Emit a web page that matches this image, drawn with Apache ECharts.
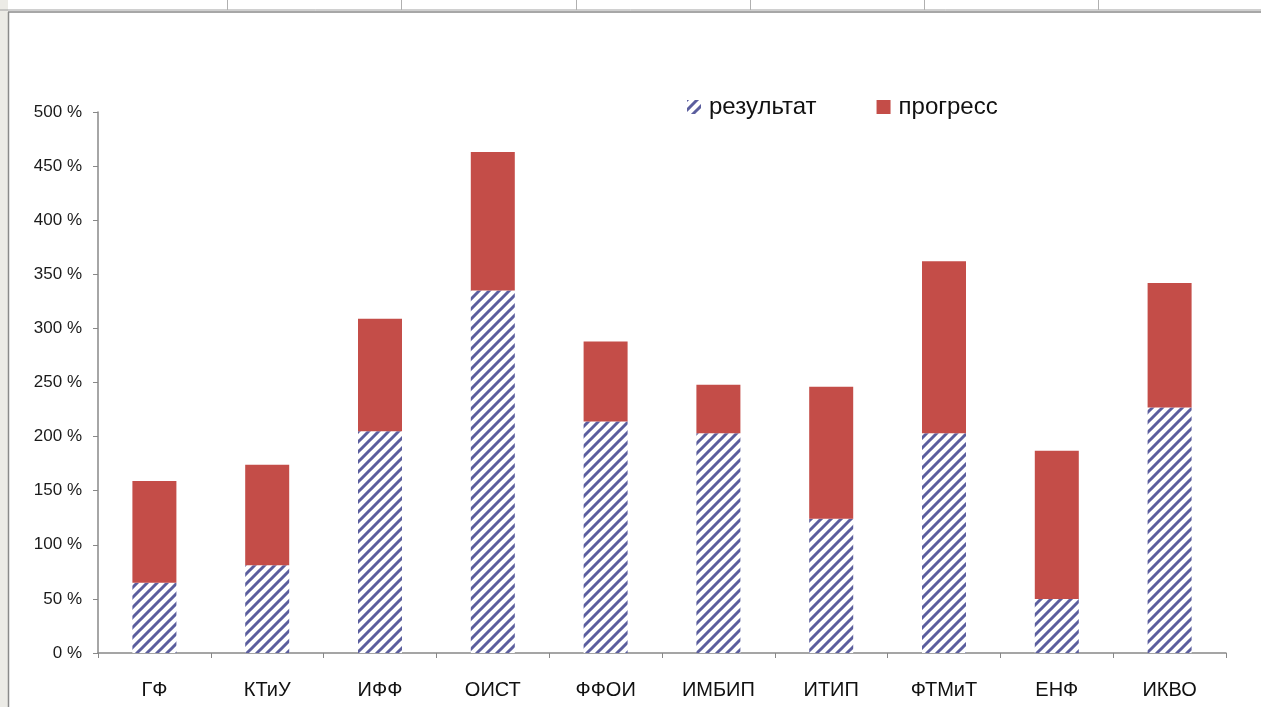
<!DOCTYPE html>
<html>
<head>
<meta charset="utf-8">
<script src="https://cdn.jsdelivr.net/npm/echarts@6/dist/echarts.min.js"></script>
<style>
* { margin: 0; padding: 0; }
html, body { width: 1261px; height: 707px; background: #fff; overflow: hidden; }
#main { width: 1261px; height: 707px; }
</style>
</head>
<body>
<div id="main"></div>
<script>
// данные
var categories = ['ГФ', 'КТиУ', 'ИФФ', 'ОИСТ', 'ФФОИ', 'ИМБИП', 'ИТИП', 'ФТМиТ', 'ЕНФ', 'ИКВО'];
var resultValues = [65, 81, 205, 335, 214, 203, 124, 203, 50, 227];
var progressValues = [94, 93, 104, 128, 74, 45, 122, 159, 137, 115];
var yTicks = [0, 50, 100, 150, 200, 250, 300, 350, 400, 450, 500];
var sheetColumns = [227, 401, 576, 750, 924, 1098];

// штриховка для "результат"
function makeHatch() {
  var c = document.createElement('canvas');
  c.width = 10; c.height = 10;
  var ctx = c.getContext('2d');
  ctx.fillStyle = '#ffffff';
  ctx.fillRect(0, 0, 10, 10);
  ctx.strokeStyle = '#5b5e9e';
  ctx.lineWidth = 3;
  ctx.beginPath();
  ctx.moveTo(-2, 12); ctx.lineTo(12, -2);
  ctx.moveTo(-2, 2); ctx.lineTo(2, -2);
  ctx.moveTo(8, 12); ctx.lineTo(12, 8);
  ctx.stroke();
  return c;
}
var hatch = { image: makeHatch(), repeat: 'repeat' };

var sheetGraphics = [
  { type: 'rect', shape: { x: 0, y: 0, width: 8, height: 707 }, style: { fill: '#ecebe6' }, z: 0 },
  { type: 'line', shape: { x1: 0, y1: 10, x2: 1261, y2: 10 }, style: { stroke: '#a0a0a0', lineWidth: 1 } },
  { type: 'line', shape: { x1: 8, y1: 12, x2: 1261, y2: 12 }, style: { stroke: '#8a8a8a', lineWidth: 1.5 } },
  { type: 'line', shape: { x1: 8.5, y1: 12, x2: 8.5, y2: 707 }, style: { stroke: '#8a8a8a', lineWidth: 1.5 } }
];
sheetColumns.forEach(function (x) {
  sheetGraphics.push({ type: 'line', shape: { x1: x + 0.5, y1: 0, x2: x + 0.5, y2: 10 }, style: { stroke: '#b0b0b0', lineWidth: 1 } });
});

var chart = echarts.init(document.getElementById('main'));
chart.setOption({
  backgroundColor: '#fff',
  animation: false,
  textStyle: { fontFamily: 'Liberation Sans, Arial, sans-serif' },
  graphic: sheetGraphics,
  legend: {
    left: 682,
    top: 90,
    itemWidth: 14,
    itemHeight: 14,
    itemGap: 60,
    textStyle: { fontSize: 24, color: '#111', padding: [0, 0, 0, 3] },
    data: [{ name: 'результат', icon: 'rect' }, { name: 'прогресс', icon: 'rect' }]
  },
  grid: { left: 98, right: 35, top: 112, bottom: 54 },
  xAxis: {
    type: 'category',
    data: categories,
    axisLine: { lineStyle: { color: '#888', width: 1.5 } },
    axisTick: { show: true, length: 5, alignWithLabel: false, lineStyle: { color: '#888' } },
    axisLabel: { fontSize: 20, color: '#111', margin: 27 }
  },
  yAxis: {
    type: 'value',
    min: yTicks[0],
    max: yTicks[yTicks.length - 1],
    interval: 50,
    axisLine: { show: true, lineStyle: { color: '#888', width: 1.5 } },
    axisTick: { show: true, length: 5, lineStyle: { color: '#888' } },
    splitLine: { show: false },
    axisLabel: { fontSize: 17, color: '#1a1a1a', margin: 16, formatter: function (v) { return v + ' %'; } }
  },
  series: [
    {
      name: 'результат',
      type: 'bar',
      stack: 'total',
      barWidth: 44,
      data: resultValues,
      itemStyle: { color: hatch }
    },
    {
      name: 'прогресс',
      type: 'bar',
      stack: 'total',
      barWidth: 44,
      data: progressValues,
      itemStyle: { color: '#c44d48' }
    }
  ]
});
</script>
</body>
</html>
